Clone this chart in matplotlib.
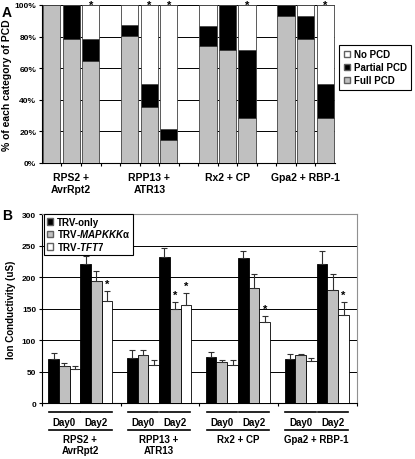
import numpy as np
import matplotlib
matplotlib.use('Agg')
import matplotlib.pyplot as plt
from matplotlib.patches import Patch
import matplotlib.transforms as mtransforms

plt.rcParams['font.family'] = ['Liberation Sans', 'DejaVu Sans']
plt.rcParams['font.weight'] = 'bold'
plt.rcParams['axes.labelweight'] = 'bold'
plt.rcParams['mathtext.fontset'] = 'custom'
plt.rcParams['mathtext.rm'] = 'Liberation Sans:bold'
plt.rcParams['mathtext.it'] = 'Liberation Sans:bold:italic'

GREY = '#c0c0c0'

# ---- panel A data (percent of leaves in each PCD category) ----
pcd_groups = ['RPS2 +\nAvrRpt2', 'RPP13 +\nATR13', 'Rx2 + CP', 'Gpa2 + RBP-1']
full_pcd = [100, 78.6, 64.3, 80.6, 35.7, 14.3, 74.3, 71.4, 28.6, 92.9, 78.6, 28.6]
partial_pcd = [0, 21.4, 14.3, 6.8, 14.3, 7.1, 12.7, 28.6, 42.9, 7.1, 14.3, 21.4]
no_pcd = [100 - f - p for f, p in zip(full_pcd, partial_pcd)]
star_a = [0, 0, 1, 0, 1, 1, 0, 0, 1, 0, 0, 1]

# ---- panel B data (ion conductivity, uS) ----
trv_only_d0 = [70, 72, 73, 70]
trv_only_d2 = [221, 231, 230, 220]
mapkkk_d0 = [58, 76, 65, 77]
mapkkk_d2 = [194, 150, 182, 179]
tft7_d0 = [54, 61, 61, 66]
tft7_d2 = [162, 155, 129, 140]
trv_only_e0 = [10, 12, 8, 8]
trv_only_e2 = [12, 15, 11, 21]
mapkkk_e0 = [6, 8, 3, 1]
mapkkk_e2 = [16, 11, 22, 25]
tft7_e0 = [4, 7, 7, 5]
tft7_e2 = [16, 20, 9, 20]
star_b_mapkkk = [0, 1, 0, 0]
star_b_tft7 = [1, 1, 1, 1]
days = ['Day0', 'Day2']

fig = plt.figure(figsize=(4.15, 4.6), dpi=100)

# ================= panel A =================
axA = fig.add_axes([0.101, 0.6435, 0.706, 0.3435])
slots = [s for s in range(15) if s % 4 != 3]
x = np.array(slots)
axA.bar(x, full_pcd, 0.88, color=GREY, edgecolor='#404040', lw=0.6, zorder=3)
axA.bar(x, partial_pcd, 0.88, bottom=full_pcd, color='black', edgecolor='#404040', lw=0.6, zorder=3)
axA.bar(x, no_pcd, 0.88, bottom=np.add(full_pcd, partial_pcd), color='white',
        edgecolor='#404040', lw=0.6, zorder=3)
star_tr = mtransforms.blended_transform_factory(axA.transData, fig.transFigure)
for xi, s in zip(x, star_a):
    if s:
        axA.text(xi, 0.998, '*', ha='center', va='top', fontsize=8, transform=star_tr,
                 clip_on=False, zorder=5)
axA.set_xlim(-0.5, 14.5)
axA.set_ylim(0, 100)
axA.set_yticks(range(0, 101, 20))
axA.set_yticklabels(['%d%%' % v for v in range(0, 101, 20)], fontsize=6)
axA.set_xticks([])
axA.set_xticks(np.arange(0.5, 14, 1), minor=True)
axA.tick_params(axis='x', which='minor', length=2.5, width=0.8)
axA.tick_params(axis='y', length=2.5, width=0.8, pad=1.5)
axA.yaxis.grid(True, color='black', lw=0.7)
axA.set_axisbelow(True)
for sp in ['top', 'right']:
    axA.spines[sp].set_visible(False)
axA.set_ylabel('% of each category of PCD', fontsize=7.5, labelpad=2)
for g, name in enumerate(pcd_groups):
    axA.text(g * 4 + 1, -6, name, ha='center', va='top', fontsize=7.5,
             linespacing=1.15, transform=axA.transData, clip_on=False)
legA = fig.legend(handles=[Patch(facecolor='white', edgecolor='#606060', label='No PCD'),
                           Patch(facecolor='black', edgecolor='#606060', label='Partial PCD'),
                           Patch(facecolor=GREY, edgecolor='#606060', label='Full PCD')],
                  loc='upper left', bbox_to_anchor=(0.818, 0.9), borderaxespad=0, fontsize=7,
                  handlelength=0.6, handleheight=0.6, handletextpad=0.4,
                  labelspacing=0.3, borderpad=0.45, fancybox=False, framealpha=1)
legA.get_frame().set_edgecolor('black')
legA.get_frame().set_linewidth(0.8)
fig.text(0.005, 0.988, 'A', fontsize=10, va='top', ha='left')

# ================= panel B =================
axB = fig.add_axes([0.1005, 0.1217, 0.7595, 0.4109])
w = 0.136
gx = np.arange(4)
series = [
    (trv_only_d0, trv_only_e0, 'black'),
    (mapkkk_d0, mapkkk_e0, GREY),
    (tft7_d0, tft7_e0, 'white'),
    (trv_only_d2, trv_only_e2, 'black'),
    (mapkkk_d2, mapkkk_e2, GREY),
    (tft7_d2, tft7_e2, 'white'),
]
centers = []
for k, (vals, err, col) in enumerate(series):
    pos = gx + 0.49 + (k - 2.5) * w
    centers.append(pos)
    axB.bar(pos, vals, w, color=col, edgecolor='black', lw=0.6, zorder=3)
    axB.errorbar(pos, vals, yerr=[np.zeros(4), err], fmt='none', ecolor='#303030',
                 elinewidth=0.8, capsize=2, capthick=0.8, zorder=4)
for k, flags in [(4, star_b_mapkkk), (5, star_b_tft7)]:
    vals, err, _ = series[k]
    for i in range(4):
        if flags[i]:
            axB.text(centers[k][i], vals[i] + err[i] + 3, '*', ha='center', va='bottom', fontsize=8)
axB.set_xlim(0, 4)
axB.set_ylim(0, 300)
axB.set_yticks(range(0, 301, 50))
axB.tick_params(axis='y', labelsize=6, length=2.5, width=0.8, pad=1.5)
axB.set_xticks(range(5))
axB.set_xticklabels([])
axB.tick_params(axis='x', length=2, width=0.8)
axB.yaxis.grid(True, color='black', lw=0.7)
axB.set_axisbelow(True)
for sp in ['top', 'right']:
    axB.spines[sp].set_color('#909090')
axB.set_ylabel('Ion Conductivity (uS)', fontsize=7, labelpad=4)

blend = mtransforms.blended_transform_factory(axB.transData, axB.transAxes)
for i in range(4):
    for d in range(2):
        x0 = centers[3 * d][i] - w / 2 + 0.01
        x1 = centers[3 * d + 2][i] + w / 2 - 0.01
        axB.plot([x0, x1], [-0.048, -0.048], color='black', lw=1.2, transform=blend, clip_on=False)
        axB.text((x0 + x1) / 2, -0.098, days[d], ha='center', va='center', fontsize=7,
                 transform=blend)
    x0 = centers[0][i] - w / 2 + 0.01
    x1 = centers[5][i] + w / 2 - 0.01
    axB.plot([x0, x1], [-0.141, -0.141], color='black', lw=1.2, transform=blend, clip_on=False)
    axB.text((x0 + x1) / 2, -0.162, pcd_groups[i], ha='center', va='top', fontsize=7,
             linespacing=1.15, transform=blend)

legB = axB.legend(handles=[Patch(facecolor='black', edgecolor='#606060', label='TRV-only'),
                           Patch(facecolor=GREY, edgecolor='#606060', label=r'TRV-$\mathit{MAPKKK}$α'),
                           Patch(facecolor='white', edgecolor='#606060', label=r'TRV-$\mathit{TFT7}$')],
                  loc='upper left', bbox_to_anchor=(0.008, 1.0), borderaxespad=0, fontsize=7,
                  handlelength=0.6, handleheight=0.6, handletextpad=0.4,
                  labelspacing=0.05, borderpad=0.3, fancybox=False, framealpha=1)
legB.get_frame().set_edgecolor('black')
legB.get_frame().set_linewidth(0.8)
legB.set_zorder(6)
fig.text(0.005, 0.545, 'B', fontsize=10, va='top', ha='left')

fig.savefig('out.png', dpi=100)
